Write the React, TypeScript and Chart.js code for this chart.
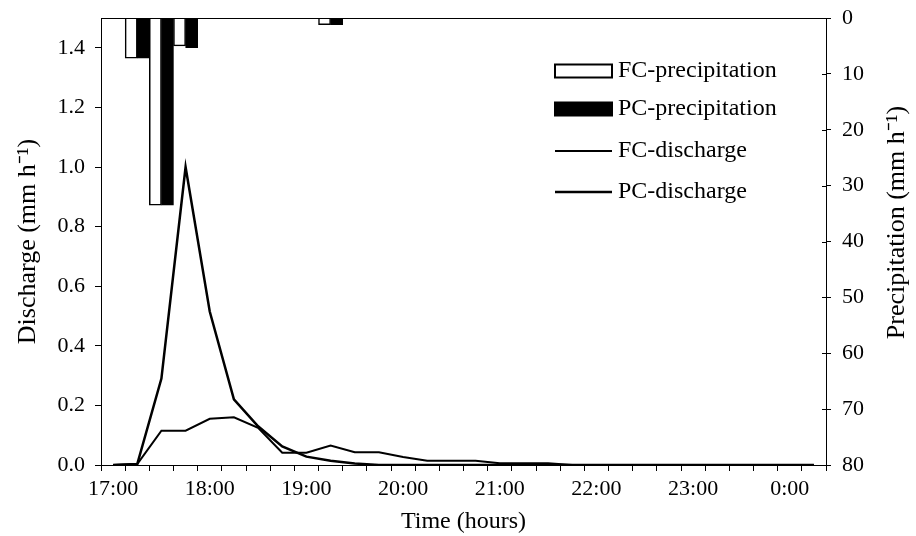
import React, { useEffect, useRef } from 'react';
import { Chart, registerables } from 'chart.js';

Chart.register(...registerables);

const timeLabels = [
  '17:00', '17:15', '17:30', '17:45', '18:00', '18:15', '18:30', '18:45',
  '19:00', '19:15', '19:30', '19:45', '20:00', '20:15', '20:30', '20:45',
  '21:00', '21:15', '21:30', '21:45', '22:00', '22:15', '22:30', '22:45',
  '23:00', '23:15', '23:30', '23:45', '0:00', '0:15',
];

const fcPrecipitation = [
  null, 7.2, 33.5, 5.0, null, null, null, null, null, 1.2,
  null, null, null, null, null, null, null, null, null, null,
  null, null, null, null, null, null, null, null, null, null,
];

const pcPrecipitation = [
  null, 7.2, 33.5, 5.3, null, null, null, null, null, 1.2,
  null, null, null, null, null, null, null, null, null, null,
  null, null, null, null, null, null, null, null, null, null,
];

const fcDischarge = [
  0, 0.003, 0.115, 0.115, 0.155, 0.16, 0.125, 0.041, 0.041, 0.065,
  0.043, 0.043, 0.027, 0.014, 0.014, 0.014, 0.006, 0.006, 0.006, 0,
  0, 0, 0, 0, 0, 0, 0, 0, 0, 0,
];

const pcDischarge = [
  0, 0.003, 0.29, 1.0, 0.515, 0.22, 0.13, 0.062, 0.028, 0.014,
  0.005, 0, 0, 0, 0, 0, 0, 0, 0, 0,
  0, 0, 0, 0, 0, 0, 0, 0, 0, 0,
];

const dischargeTicks = [0, 0.2, 0.4, 0.6, 0.8, 1.0, 1.2, 1.4];
const precipitationTicks = [0, 10, 20, 30, 40, 50, 60, 70, 80];

const FONT = "'Liberation Serif', 'Times New Roman', serif";

const overlayPlugin = {
  id: 'overlay',
  afterDraw(chart: any) {
    const { ctx, chartArea } = chart;
    const { left, right, top } = chartArea;
    ctx.save();
    ctx.strokeStyle = '#000';
    ctx.lineWidth = 1;
    // top frame line
    ctx.beginPath();
    ctx.moveTo(left, Math.round(top) + 0.5);
    ctx.lineTo(right + 1, Math.round(top) + 0.5);
    ctx.stroke();
    // inner tick marks on the right axis
    const y2 = chart.scales.y2;
    ctx.beginPath();
    y2.ticks.forEach((t: any) => {
      const py = Math.round(y2.getPixelForValue(t.value)) + 0.5;
      ctx.moveTo(right - 4, py);
      ctx.lineTo(right, py);
    });
    ctx.stroke();

    // right axis title, reading bottom to top
    ctx.fillStyle = '#000';
    ctx.font = `26px ${FONT}`;
    ctx.textAlign = 'center';
    ctx.textBaseline = 'middle';
    ctx.save();
    ctx.translate(chart.width - 19, (chartArea.top + chartArea.bottom) / 2 - 19);
    ctx.rotate(-Math.PI / 2);
    ctx.fillText('Precipitation (mm h\u207B\u00B9)', 0, 0);
    ctx.restore();

    // legend
    const sx = left + 454;
    const sw = 57;
    const rows = [top + 53, top + 91, top + 133, top + 174];
    ctx.font = `24px ${FONT}`;
    ctx.textAlign = 'left';
    chart.data.datasets.forEach((ds: any, i: number) => {
      const cy = rows[i];
      if (ds.type === 'line') {
        ctx.strokeStyle = ds.borderColor;
        ctx.lineWidth = ds.borderWidth;
        ctx.beginPath();
        ctx.moveTo(sx, cy);
        ctx.lineTo(sx + sw, cy);
        ctx.stroke();
      } else {
        ctx.fillStyle = ds.backgroundColor;
        ctx.fillRect(sx, cy - 6.5, sw, 13);
        ctx.strokeStyle = ds.borderColor;
        ctx.lineWidth = 2;
        ctx.strokeRect(sx, cy - 6.5, sw, 13);
      }
      ctx.fillStyle = '#000';
      ctx.fillText(ds.label, sx + sw + 6, cy);
    });
    ctx.restore();
  },
};

export default function App() {
  const canvasRef = useRef<HTMLCanvasElement | null>(null);

  useEffect(() => {
    document.body.style.margin = '0';
    const canvas = canvasRef.current;
    if (!canvas) return;
    Chart.defaults.font.family = FONT;
    Chart.defaults.color = '#000';

    const chart = new Chart(canvas, {
      type: 'bar',
      data: {
        labels: timeLabels,
        datasets: [
          {
            type: 'bar',
            label: 'FC-precipitation',
            data: fcPrecipitation as any,
            yAxisID: 'y2',
            backgroundColor: '#ffffff',
            borderColor: '#000000',
            borderWidth: 1.5,
            barPercentage: 1.0,
            categoryPercentage: 1.0,
          },
          {
            type: 'bar',
            label: 'PC-precipitation',
            data: pcPrecipitation as any,
            yAxisID: 'y2',
            backgroundColor: '#000000',
            borderColor: '#000000',
            borderWidth: 1.5,
            barPercentage: 1.0,
            categoryPercentage: 1.0,
          },
          {
            type: 'line',
            label: 'FC-discharge',
            data: fcDischarge,
            yAxisID: 'y',
            borderColor: '#000000',
            backgroundColor: '#000000',
            borderWidth: 2,
            pointRadius: 0,
            tension: 0,
            fill: false,
          },
          {
            type: 'line',
            label: 'PC-discharge',
            data: pcDischarge,
            yAxisID: 'y',
            borderColor: '#000000',
            backgroundColor: '#000000',
            borderWidth: 2.5,
            pointRadius: 0,
            tension: 0,
            fill: false,
          },
        ] as any,
      },
      options: {
        responsive: false,
        animation: false,
        devicePixelRatio: 1,
        layout: { padding: { top: 18, left: 0, right: 0, bottom: 0 } },
        plugins: {
          legend: { display: false },
          tooltip: { enabled: false },
        },
        scales: {
          x: {
            type: 'category',
            offset: true,
            grid: {
              offset: true,
              drawOnChartArea: false,
              drawTicks: true,
              tickLength: 6,
              color: '#000',
            },
            border: { display: true, color: '#000', width: 1 },
            ticks: {
              autoSkip: false,
              maxRotation: 0,
              minRotation: 0,
              padding: 5,
              font: { size: 22, family: FONT },
              color: '#000',
              callback: (_v: any, i: number) => (i % 4 === 0 ? timeLabels[i] : ''),
            },
            title: {
              display: true,
              text: 'Time (hours)',
              font: { size: 24, family: FONT },
              color: '#000',
              padding: { top: 0, bottom: 0 },
            },
            afterFit: (s: any) => {
              s.height = 71;
              s.paddingLeft = 0;
              s.paddingRight = 0;
            },
          },
          y: {
            type: 'linear',
            position: 'left',
            min: 0,
            max: 1.5,
            grid: {
              drawOnChartArea: false,
              drawTicks: true,
              tickLength: 6,
              color: '#000',
            },
            border: { display: true, color: '#000', width: 1 },
            afterBuildTicks: (s: any) => {
              s.ticks = dischargeTicks.map((v) => ({ value: v }));
            },
            ticks: {
              padding: 10,
              font: { size: 22, family: FONT },
              color: '#000',
              callback: (v: any) => Number(v).toFixed(1),
            },
            title: {
              display: true,
              text: 'Discharge (mm h\u207B\u00B9)',
              font: { size: 26, family: FONT },
              color: '#000',
              padding: { top: 13, bottom: 0 },
            },
            afterFit: (s: any) => {
              s.width = 101;
              s.paddingTop = 0;
              s.paddingBottom = 0;
            },
          },
          y2: {
            type: 'linear',
            position: 'right',
            reverse: true,
            min: 0,
            max: 80,
            grid: {
              drawOnChartArea: false,
              drawTicks: true,
              tickLength: 5,
              color: '#000',
            },
            border: { display: true, color: '#000', width: 1 },
            afterBuildTicks: (s: any) => {
              s.ticks = precipitationTicks.map((v) => ({ value: v }));
            },
            ticks: {
              padding: 11,
              font: { size: 22, family: FONT },
              color: '#000',
            },
            title: { display: false },
            afterFit: (s: any) => {
              s.width = 90;
              s.paddingTop = 0;
              s.paddingBottom = 0;
            },
          },
        },
      } as any,
      plugins: [overlayPlugin],
    });

    return () => {
      chart.destroy();
    };
  }, []);

  return (
    <div style={{ width: 916, height: 536, background: '#fff' }}>
      <canvas ref={canvasRef} width={916} height={536} style={{ display: 'block' }} />
    </div>
  );
}
